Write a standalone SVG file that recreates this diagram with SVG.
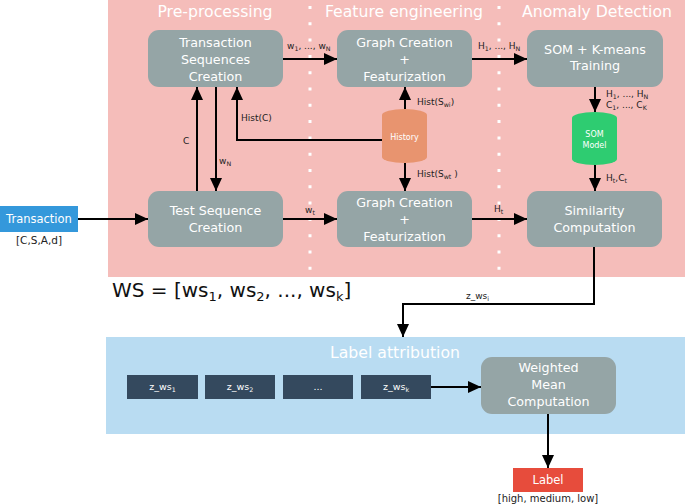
<svg xmlns="http://www.w3.org/2000/svg" width="685" height="504" viewBox="0 0 685 504">
<defs>
<marker id="ah" markerUnits="userSpaceOnUse" markerWidth="13" markerHeight="12" refX="13" refY="6" orient="auto">
<path d="M0,0 L13,6 L0,12 Z" fill="#000"/>
</marker>
<style>
text{font-family:"DejaVu Sans","Liberation Sans",sans-serif}
.node{fill:#95a5a6}
.nt{fill:#fff;font-size:12.7px;text-anchor:middle}
.title{fill:#fff;font-size:15.7px;text-anchor:middle}
.lbl{fill:#222;font-size:9px}
.sm{font-size:6.3px}
.conn{fill:none;stroke:#000;stroke-width:2;marker-end:url(#ah)}
.dots{stroke:#fff;stroke-width:3;stroke-dasharray:3 13.3}
.zb{fill:#34495e}
.zt{fill:#fff;font-size:9.5px;text-anchor:middle}
</style>
</defs>
<rect width="685" height="504" fill="#fff"/>
<!-- panels -->
<rect x="108" y="0" width="577" height="277" fill="#f5bdba"/>
<rect x="106" y="337" width="579" height="97" fill="#b9dcf2"/>
<line class="dots" x1="310" y1="6" x2="310" y2="278"/>
<line class="dots" x1="499" y1="6" x2="499" y2="278"/>
<text class="title" x="215" y="17">Pre-processing</text>
<text class="title" x="404" y="17">Feature engineering</text>
<text class="title" x="597" y="17">Anomaly Detection</text>
<text class="title" x="395" y="358">Label attribution</text>
<text x="112" y="297" style="font-size:20px;fill:#111">WS = [ws<tspan dy="4" style="font-size:13px">1</tspan><tspan dy="-4">, ws</tspan><tspan dy="4" style="font-size:13px">2</tspan><tspan dy="-4">, ..., ws</tspan><tspan dy="4" style="font-size:13px">k</tspan><tspan dy="-4">]</tspan></text>

<!-- connectors -->
<g id="connectors">
<path class="conn" d="M78,219 H148"/>
<path class="conn" d="M283,59 H337"/>
<path class="conn" d="M472,59 H527"/>
<path class="conn" d="M595,87 V112"/>
<path class="conn" d="M595,165 V191"/>
<path class="conn" d="M405,109 V87"/>
<path class="conn" d="M405,163 V191"/>
<path class="conn" d="M382,140 H237 V87"/>
<path class="conn" d="M197,191 V87"/>
<path class="conn" d="M216,87 V191"/>
<path class="conn" d="M283,219 H337"/>
<path class="conn" d="M472,219 H527"/>
<path class="conn" d="M594,247 V304 H403 V337"/>
<path class="conn" d="M431,387 H481"/>
<path class="conn" d="M548,414 V468"/>
<text class="lbl" x="287" y="49">w<tspan class="sm" dy="2">1</tspan><tspan dy="-2">, ..., w</tspan><tspan class="sm" dy="2">N</tspan></text>
<text class="lbl" x="478" y="49">H<tspan class="sm" dy="2">1</tspan><tspan dy="-2">, ..., H</tspan><tspan class="sm" dy="2">N</tspan></text>
<text class="lbl" x="606" y="97">H<tspan class="sm" dy="2">1</tspan><tspan dy="-2">, ..., H</tspan><tspan class="sm" dy="2">N</tspan></text>
<text class="lbl" x="606" y="108">C<tspan class="sm" dy="2">1</tspan><tspan dy="-2">, ..., C</tspan><tspan class="sm" dy="2">K</tspan></text>
<text class="lbl" x="606" y="181">H<tspan class="sm" dy="2">t</tspan><tspan dy="-2">,C</tspan><tspan class="sm" dy="2">t</tspan></text>
<text class="lbl" x="417" y="105">Hist(S<tspan class="sm" dy="2">wi</tspan><tspan dy="-2">)</tspan></text>
<text class="lbl" x="417" y="177">Hist(S<tspan class="sm" dy="2">wt</tspan><tspan dy="-2"> )</tspan></text>
<text class="lbl" x="241" y="121">Hist(C)</text>
<text class="lbl" x="183" y="144">C</text>
<text class="lbl" x="219" y="164">w<tspan class="sm" dy="2">N</tspan></text>
<text class="lbl" x="305" y="213">w<tspan class="sm" dy="2">t</tspan></text>
<text class="lbl" x="494" y="212">H<tspan class="sm" dy="2">t</tspan></text>
<text class="lbl" x="466" y="299">z_ws<tspan class="sm" dy="2">i</tspan></text>
</g>

<!-- nodes -->
<g id="transaction">
<rect x="0" y="206" width="78" height="26" fill="#3498db"/>
<text x="39" y="223" style="fill:#fff;font-size:11.5px;text-anchor:middle">Transaction</text>
<text x="39" y="244" style="fill:#222;font-size:10.5px;text-anchor:middle">[C,S,A,d]</text>
</g>
<g id="tsc">
<rect class="node" x="148" y="30" width="135" height="57" rx="11"/>
<text class="nt" x="215.5" y="46.5">Transaction</text>
<text class="nt" x="215.5" y="63.5">Sequences</text>
<text class="nt" x="215.5" y="80.5">Creation</text>
</g>
<g id="graph-top">
<rect class="node" x="337" y="30" width="135" height="57" rx="11"/>
<text class="nt" x="404.5" y="46.5">Graph Creation</text>
<text class="nt" x="404.5" y="63.5">+</text>
<text class="nt" x="404.5" y="80.5">Featurization</text>
</g>
<g id="som-training">
<rect class="node" x="527" y="30" width="136" height="57" rx="11"/>
<text class="nt" x="595" y="53.5">SOM + K-means</text>
<text class="nt" x="595" y="69.5">Training</text>
</g>
<g id="history">
<path d="M382,115 A22.5,6 0 0 1 427,115 V157 A22.5,6 0 0 1 382,157 Z" fill="#e8946f"/>
<text x="404.5" y="140" style="fill:#fff;font-size:8px;text-anchor:middle">History</text>
</g>
<g id="som-model">
<path d="M572,118 A22.5,6 0 0 1 617,118 V159 A22.5,6 0 0 1 572,159 Z" fill="#2ecc71"/>
<text x="594.5" y="137" style="fill:#fff;font-size:8px;text-anchor:middle">SOM</text>
<text x="594.5" y="148" style="fill:#fff;font-size:8px;text-anchor:middle">Model</text>
</g>
<g id="test-seq">
<rect class="node" x="148" y="191" width="135" height="56" rx="11"/>
<text class="nt" x="215.5" y="215">Test Sequence</text>
<text class="nt" x="215.5" y="232">Creation</text>
</g>
<g id="graph-bottom">
<rect class="node" x="337" y="191" width="135" height="56" rx="11"/>
<text class="nt" x="404.5" y="206.5">Graph Creation</text>
<text class="nt" x="404.5" y="223.5">+</text>
<text class="nt" x="404.5" y="240.5">Featurization</text>
</g>
<g id="similarity">
<rect class="node" x="527" y="191" width="135" height="56" rx="11"/>
<text class="nt" x="594.5" y="215">Similarity</text>
<text class="nt" x="594.5" y="232">Computation</text>
</g>
<g id="z1"><rect class="zb" x="127" y="375" width="71" height="24"/><text class="zt" x="162.5" y="390">z_ws<tspan class="sm" dy="2">1</tspan></text></g>
<g id="z2"><rect class="zb" x="205" y="375" width="70" height="24"/><text class="zt" x="240" y="390">z_ws<tspan class="sm" dy="2">2</tspan></text></g>
<g id="z3"><rect class="zb" x="283" y="375" width="70" height="24"/><text class="zt" x="318" y="390">...</text></g>
<g id="zk"><rect class="zb" x="361" y="375" width="70" height="24"/><text class="zt" x="396" y="390">z_ws<tspan class="sm" dy="2">k</tspan></text></g>
<g id="weighted">
<rect class="node" x="481" y="357" width="135" height="57" rx="11"/>
<text class="nt" x="548.5" y="372">Weighted</text>
<text class="nt" x="548.5" y="389">Mean</text>
<text class="nt" x="548.5" y="406">Computation</text>
</g>
<g id="label">
<rect x="513" y="468" width="70" height="24" fill="#e74c3c"/>
<text x="548" y="484" style="fill:#fff;font-size:11.5px;text-anchor:middle">Label</text>
<text x="548" y="502" style="fill:#222;font-size:10px;text-anchor:middle">[high, medium, low]</text>
</g>
</svg>
